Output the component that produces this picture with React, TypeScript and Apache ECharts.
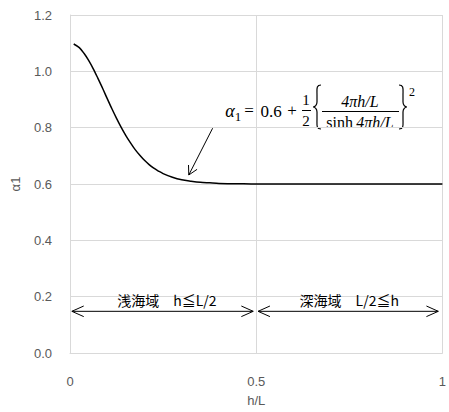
import React, { useEffect, useRef } from "react";
import * as echarts from "echarts";

// h/L values and α1 values
const hValues = [0.01, 0.025, 0.0375, 0.05, 0.0625, 0.075, 0.0875, 0.1, 0.1125, 0.125, 0.1375, 0.15, 0.1625, 0.175, 0.1875, 0.2, 0.2125, 0.225, 0.2375, 0.25, 0.275, 0.3, 0.325, 0.35, 0.375, 0.4, 0.45, 0.5, 0.6, 0.7, 0.8, 0.9, 1.0];
const alphaValues = [1.097, 1.084, 1.064, 1.039, 1.009, 0.975, 0.940, 0.903, 0.867, 0.833, 0.801, 0.772, 0.746, 0.722, 0.702, 0.684, 0.669, 0.656, 0.646, 0.637, 0.624, 0.615, 0.610, 0.606, 0.604, 0.602, 0.601, 0.600, 0.600, 0.600, 0.600, 0.600, 0.600];

// axis ticks
const xTicks = [0, 0.5, 1];
const yTickLabels = ["0.0", "0.2", "0.4", "0.6", "0.8", "1.0", "1.2"];

// region arrows: [x0, y0, x1, y1, doubleHeaded]
const regionArrows = [
  [0.005, 0.148, 0.492, 0.148, 1],
  [0.505, 0.148, 0.989, 0.148, 1],
];
const regionLabels = ["浅海域　h≦L/2", "深海域　L/2≦h"];
const regionLabelPos = [
  [0.26, 0.148],
  [0.75, 0.148],
];
// pointer arrow from the formula to the curve
const pointerArrow = [[0.383, 0.798, 0.319, 0.632, 0]];

const GRAY = "#595959";
const GRID = "#d9d9d9";

echarts.graphic.registerShape(
  "braceL",
  echarts.graphic.extendPath("M 8 0 C 3 0 4 4 4 10 L 4 17 C 4 20 2 22 0 22 C 2 22 4 24 4 27 L 4 34 C 4 40 3 44 8 44", {})
);
echarts.graphic.registerShape(
  "braceR",
  echarts.graphic.extendPath("M 0 0 C 5 0 4 4 4 10 L 4 17 C 4 20 6 22 8 22 C 6 22 4 24 4 27 L 4 34 C 4 40 5 44 0 44", {})
);

function arrowItem(params: any, api: any) {
  const p0 = api.coord([api.value(0), api.value(1)]);
  const p1 = api.coord([api.value(2), api.value(3)]);
  const both = api.value(4) === 1;
  const style = { stroke: "#000", lineWidth: 1, fill: null };
  const head = (tip: number[], from: number[]) => {
    const dx = from[0] - tip[0];
    const dy = from[1] - tip[1];
    const len = Math.sqrt(dx * dx + dy * dy) || 1;
    const ux = dx / len, uy = dy / len;
    const L = 13, ang = 0.42;
    const c = Math.cos(ang), s = Math.sin(ang);
    const a = [tip[0] + L * (ux * c - uy * s), tip[1] + L * (ux * s + uy * c)];
    const b = [tip[0] + L * (ux * c + uy * s), tip[1] + L * (-ux * s + uy * c)];
    return { type: "polyline", shape: { points: [a, tip, b] }, style };
  };
  const children: any[] = [
    { type: "line", shape: { x1: p0[0], y1: p0[1], x2: p1[0], y2: p1[1] }, style },
    head(p1, p0),
  ];
  if (both) children.push(head(p0, p1));
  return { type: "group", children };
}

function pointerItem(params: any, api: any) {
  const p0 = api.coord([api.value(0), api.value(1)]);
  const p1 = api.coord([api.value(2), api.value(3)]);
  const style = { stroke: "#000", lineWidth: 1, fill: null };
  const dx = p0[0] - p1[0], dy = p0[1] - p1[1];
  const len = Math.sqrt(dx * dx + dy * dy) || 1;
  const ux = dx / len, uy = dy / len;
  const L = 10, ang = 0.5;
  const c = Math.cos(ang), s = Math.sin(ang);
  const a = [p1[0] + L * (ux * c - uy * s), p1[1] + L * (ux * s + uy * c)];
  const b = [p1[0] + L * (ux * c + uy * s), p1[1] + L * (-ux * s + uy * c)];
  return {
    type: "group",
    children: [
      { type: "line", shape: { x1: p0[0], y1: p0[1], x2: p1[0], y2: p1[1] }, style },
      { type: "polyline", shape: { points: [a, p1, b] }, style },
    ],
  };
}

function labelItem(params: any, api: any) {
  const p = api.coord([api.value(0), api.value(1)]);
  return {
    type: "text",
    x: p[0],
    y: p[1] - 11,
    style: {
      text: regionLabels[params.dataIndex],
      fill: "#000",
      font: '14px "Noto Sans CJK JP"',
      textAlign: "center",
      textVerticalAlign: "middle",
    },
  };
}

const serif = '"Liberation Serif", "DejaVu Serif", serif';

export default function App() {
  const ref = useRef<HTMLDivElement>(null);
  useEffect(() => {
    document.body.style.margin = "0";
    if (!ref.current) return;
    const chart = echarts.init(ref.current, null, { renderer: "svg" });
    const t = (text: string, x: number, y: number, font: string) => ({
      type: "text",
      x,
      y,
      style: { text, fill: "#000", font, textAlign: "center", textVerticalAlign: "middle" },
    });
    chart.setOption({
      animation: false,
      grid: { left: 70, right: 3, top: 15, bottom: 57 },
      xAxis: {
        type: "value",
        min: 0,
        max: 1,
        interval: 0.5,
        name: "h/L",
        nameLocation: "middle",
        nameGap: 41,
        nameTextStyle: { color: GRAY, fontSize: 13, fontFamily: "Liberation Sans" },
        axisLine: { show: true, lineStyle: { color: GRID, width: 1 } },
        axisTick: { show: false },
        axisLabel: {
          color: GRAY,
          fontSize: 13,
          fontFamily: "Liberation Sans",
          margin: 22,
          formatter: (v: number) => (xTicks.includes(v) ? String(v) : ""),
        },
        splitLine: { show: true, lineStyle: { color: GRID, width: 1 } },
      },
      yAxis: {
        type: "value",
        min: 0,
        max: 1.2,
        interval: 0.2,
        name: "α1",
        nameLocation: "middle",
        nameGap: 48,
        nameTextStyle: { color: GRAY, fontSize: 13, fontFamily: "Liberation Sans" },
        axisLine: { show: true, lineStyle: { color: GRID, width: 1 } },
        axisTick: { show: false },
        axisLabel: {
          color: GRAY,
          fontSize: 13,
          fontFamily: "Liberation Sans",
          margin: 18,
          formatter: (v: number) => yTickLabels[Math.round(v / 0.2)] ?? "",
        },
        splitLine: { show: true, lineStyle: { color: GRID, width: 1 } },
      },
      series: [
        {
          type: "line",
          data: hValues.map((h, i) => [h, alphaValues[i]]),
          smooth: 0.3,
          showSymbol: false,
          symbol: "none",
          lineStyle: { color: "#000", width: 1.5 },
          z: 3,
        },
        {
          type: "custom",
          renderItem: arrowItem,
          data: regionArrows,
          clip: false,
          z: 4,
        },
        {
          type: "custom",
          renderItem: labelItem,
          data: regionLabelPos,
          clip: false,
          z: 4,
        },
        {
          type: "custom",
          renderItem: pointerItem,
          data: pointerArrow,
          clip: false,
          z: 4,
        },
      ],
      graphic: [
        t("α", 230, 111, `italic 18px ${serif}`),
        t("1", 238, 116, `13px ${serif}`),
        t("=", 249, 110, `17px ${serif}`),
        t("0.6", 271, 111, `17px ${serif}`),
        t("+", 292, 110, `17px ${serif}`),
        t("1", 306, 100, `15px ${serif}`),
        { type: "line", shape: { x1: 302, y1: 110.5, x2: 311, y2: 110.5 }, style: { stroke: "#000", lineWidth: 1 } },
        t("2", 306, 121, `15px ${serif}`),
        { type: "braceL", x: 313, y: 85, style: { stroke: "#000", fill: null, lineWidth: 1.2 } },
        t("4πh/L", 360, 101, `italic 16px ${serif}`),
        { type: "line", shape: { x1: 322, y1: 111.5, x2: 399, y2: 111.5 }, style: { stroke: "#000", lineWidth: 1.2 } },
        {
          type: "text",
          x: 360,
          y: 122,
          style: {
            text: "{a|sinh} {b|4πh/L}",
            textAlign: "center",
            textVerticalAlign: "middle",
            rich: {
              a: { font: `16px ${serif}`, fill: "#000" },
              b: { font: `italic 16px ${serif}`, fill: "#000" },
            },
          },
        },
        { type: "braceR", x: 399, y: 85, style: { stroke: "#000", fill: null, lineWidth: 1.2 } },
        t("2", 412, 92, `12px ${serif}`),
      ],
    });
    return () => chart.dispose();
  }, []);
  return <div ref={ref} style={{ width: 449, height: 412 }} />;
}
